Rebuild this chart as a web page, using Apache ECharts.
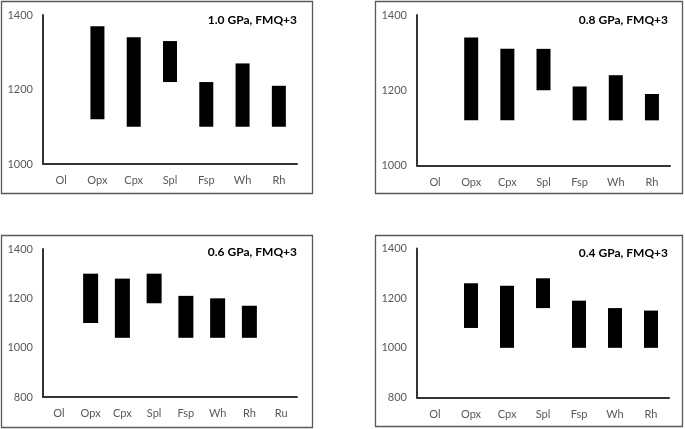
<!DOCTYPE html>
<html><head><meta charset="utf-8">
<script src="https://cdn.jsdelivr.net/npm/echarts@6/dist/echarts.min.js"></script>
<style>html,body{margin:0;padding:0;background:#fff}#c{width:685px;height:429px}</style>
</head><body><div id="c"></div>
<script>
const cats7 = ['Ol','Opx','Cpx','Spl','Fsp','Wh','Rh'];
const cats8 = ['Ol','Opx','Cpx','Spl','Fsp','Wh','Rh','Ru'];
const titles = ['1.0 GPa, FMQ+3','0.8 GPa, FMQ+3','0.6 GPa, FMQ+3','0.4 GPa, FMQ+3'];
const low10  = [null,1120,1100,1220,1100,1100,1100];
const high10 = [null,1370,1340,1330,1220,1270,1210];
const low08  = [null,1120,1120,1200,1120,1120,1120];
const high08 = [null,1340,1310,1310,1210,1240,1190];
const low06  = [null,1100,1040,1180,1040,1040,1040,null];
const high06 = [null,1300,1280,1300,1210,1200,1170,null];
const low04  = [null,1080,1000,1160,1000,1000,1000];
const high04 = [null,1260,1250,1280,1190,1160,1150];
const yMin = [1000,1000,800,800];
const yMax = [1400,1400,1400,1400];
const yInt = [200,200,200,200];

const panels = [
  {cats:cats7, lo:low10, hi:high10, grid:{left:43,top:15,width:254,height:149}, titleRight:383, titleTop:9, bw:14, box:[1,1,311,192]},
  {cats:cats7, lo:low08, hi:high08, grid:{left:417,top:15,width:253,height:150.5}, titleRight:12, titleTop:9, bw:14, box:[375,1,307,192]},
  {cats:cats8, lo:low06, hi:high06, grid:{left:43,top:249,width:254,height:148}, titleRight:383, titleTop:241.5, bw:15, box:[1,235,311,192]},
  {cats:cats7, lo:low04, hi:high04, grid:{left:417,top:248.5,width:252,height:149}, titleRight:12, titleTop:242.5, bw:14, box:[375,235,307,191]}
];
const font = 'Lato, "Open Sans", sans-serif';
const grids=[], xAxes=[], yAxes=[], series=[], titleArr=[], graphics=[];
panels.forEach((p,i)=>{
  grids.push(Object.assign({containLabel:false}, p.grid));
  xAxes.push({type:'category', gridIndex:i, data:p.cats,
    axisLine:{show:true, lineStyle:{color:'#333', width:2}}, axisTick:{show:false},
    axisLabel:{color:'#595959', fontSize:11, fontFamily:font, margin:11}});
  yAxes.push({type:'value', gridIndex:i, min:yMin[i], max:yMax[i], interval:yInt[i],
    axisLine:{show:true, lineStyle:{color:'#333', width:2}}, axisTick:{show:false}, splitLine:{show:false},
    axisLabel:{color:'#595959', fontSize:11, fontFamily:font, margin:10, formatter:v=>String(v)}});
  series.push({type:'bar', xAxisIndex:i, yAxisIndex:i, stack:'s'+i, barWidth:p.bw, silent:true,
    itemStyle:{color:'rgba(0,0,0,0)'}, data:p.lo});
  series.push({type:'bar', xAxisIndex:i, yAxisIndex:i, stack:'s'+i, barWidth:p.bw, silent:true,
    itemStyle:{color:'#000'}, data:p.hi.map((h,k)=> h==null||p.lo[k]==null ? null : h - p.lo[k])});
  titleArr.push({text:titles[i], right:p.titleRight, top:p.titleTop,
    textStyle:{fontSize:12, fontWeight:'bold', color:'#000', fontFamily:font}});
  graphics.push({type:'rect', shape:{x:p.box[0]+0.5, y:p.box[1]+0.5, width:p.box[2], height:p.box[3]},
    style:{fill:null, stroke:'#595959', lineWidth:1.3}, z:-1});
});
const chart = echarts.init(document.getElementById('c'), null, {renderer:'canvas'});
chart.setOption({animation:false, backgroundColor:'#fff', title:titleArr, grid:grids, xAxis:xAxes, yAxis:yAxes, series:series, graphic:graphics});
</script></body></html>
